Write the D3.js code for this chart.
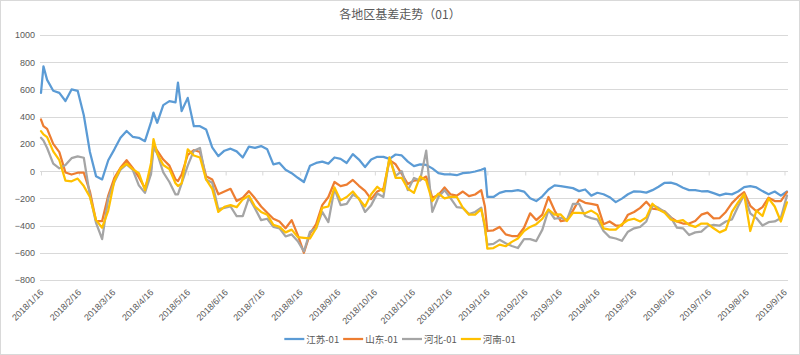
<!DOCTYPE html>
<html><head><meta charset="utf-8">
<script src="https://cdn.jsdelivr.net/npm/d3@7/dist/d3.min.js"></script>
<style>html,body{margin:0;padding:0;background:#fff;}svg{display:block;font-family:"Liberation Sans","Noto Sans CJK SC",sans-serif;}</style>
</head><body>
<svg id="chart" width="800" height="355"></svg>
<script>
const title = "各地区基差走势（01）";
const seriesNames = ["江苏-01", "山东-01", "河北-01", "河南-01"];
const seriesColors = ["#5B9BD5", "#ED7D31", "#A5A5A5", "#FFC000"];
const yTicks = [-800, -600, -400, -200, 0, 200, 400, 600, 800, 1000];
const xTickLabels = ["2018/1/16","2018/2/16","2018/3/16","2018/4/16","2018/5/16","2018/6/16","2018/7/16","2018/8/16","2018/9/16","2018/10/16","2018/11/16","2018/12/16","2019/1/16","2019/2/16","2019/3/16","2019/4/16","2019/5/16","2019/6/16","2019/7/16","2019/8/16","2019/9/16"];

const dates = [
"2018-01-16","2018-01-18","2018-01-21","2018-01-26","2018-01-31","2018-02-05","2018-02-10","2018-02-15","2018-02-20","2018-02-25",
"2018-03-02","2018-03-07","2018-03-12","2018-03-17","2018-03-22","2018-03-27","2018-04-01","2018-04-06","2018-04-11","2018-04-16",
"2018-04-18","2018-04-21","2018-04-26","2018-05-01","2018-05-06","2018-05-08","2018-05-11","2018-05-16","2018-05-21","2018-05-26",
"2018-05-31","2018-06-05","2018-06-10","2018-06-15","2018-06-20","2018-06-25","2018-06-30","2018-07-05","2018-07-10","2018-07-15",
"2018-07-20","2018-07-25","2018-07-30","2018-08-04","2018-08-09","2018-08-14","2018-08-19","2018-08-24","2018-08-29","2018-09-03",
"2018-09-08","2018-09-13","2018-09-18","2018-09-23","2018-09-28","2018-10-03","2018-10-08","2018-10-13","2018-10-18","2018-10-23",
"2018-10-28","2018-11-02","2018-11-07","2018-11-12","2018-11-17","2018-11-22","2018-11-27","2018-12-02","2018-12-07","2018-12-12",
"2018-12-17","2018-12-22","2018-12-27","2019-01-01","2019-01-06","2019-01-11","2019-01-14","2019-01-16","2019-01-21","2019-01-26",
"2019-01-31","2019-02-05","2019-02-10","2019-02-15","2019-02-20","2019-02-25","2019-03-02","2019-03-07","2019-03-12","2019-03-17",
"2019-03-22","2019-03-27","2019-04-01","2019-04-06","2019-04-11","2019-04-16","2019-04-21","2019-04-26","2019-05-01","2019-05-06",
"2019-05-11","2019-05-16","2019-05-21","2019-05-26","2019-05-31","2019-06-05","2019-06-10","2019-06-15","2019-06-20","2019-06-25",
"2019-06-30","2019-07-05","2019-07-10","2019-07-15","2019-07-20","2019-07-25","2019-07-30","2019-08-04","2019-08-09","2019-08-14",
"2019-08-19","2019-08-24","2019-08-29","2019-09-03","2019-09-08","2019-09-13","2019-09-18"];

const jiangsu = [
575, 770, 670, 590, 575, 515, 600, 590, 410, 140,
-37, -61, 80, 160, 245, 295, 252, 245, 220, 360,
430, 355, 485, 514, 505, 650, 441, 538, 330, 330,
306, 175, 110, 150, 165, 145, 100, 180, 171, 184,
160, 49, 60, 10, -15, -49, -80, 40, 60, 70,
55, 100, 90, 60, 125, 85, 30, 85, 105, 105,
90, 122, 115, 70, 37, 49, 45, 20, -15, -24,
-24, -30, -15, -12, -3, 10, 20, -190, -190, -160,
-147, -147, -140, -150, -200, -220, -185, -135, -105, -110,
-118, -125, -147, -135, -180, -159, -170, -192, -228, -202,
-170, -148, -150, -158, -140, -115, -86, -85, -98, -122,
-140, -140, -148, -147, -162, -178, -165, -171, -150, -118,
-110, -120, -147, -170, -150, -180, -150];

const shandong = [
379, 330, 310, 200, 140, -10, -25, -12, -12, -150,
-367, -367, -180, -50, 25, 80, 24, -45, -125, 10,
200, 150, 85, 40, -61, -73, -25, 120, 155, 140,
-37, -61, -170, -150, -130, -220, -195, -147, -200, -260,
-306, -350, -370, -420, -360, -470, -600, -460, -390, -250,
-190, -80, -110, -100, -65, -108, -145, -206, -150, -130,
80, 50, -20, -95, -70, -65, -40, -196, -175, -120,
-171, -180, -150, -184, -172, -140, -260, -440, -435, -410,
-465, -477, -477, -416, -310, -360, -320, -190, -290, -367,
-360, -290, -210, -233, -240, -250, -390, -370, -400, -400,
-320, -300, -270, -225, -275, -282, -296, -340, -370, -385,
-385, -367, -320, -305, -347, -345, -300, -235, -190, -155,
-255, -295, -265, -195, -220, -220, -155];

const hebei = [
245, 225, 170, 55, 20, 45, 95, 108, 98, -180,
-380, -500, -200, -80, 10, 50, 10, -105, -160, -20,
170, 130, -10, -80, -171, -171, -90, 40, 150, 170,
-61, -86, -280, -270, -260, -330, -330, -196, -275, -360,
-350, -410, -420, -480, -465, -515, -590, -445, -420, -300,
-375, -130, -250, -240, -172, -200, -300, -250, -165, -190,
100, -35, 0, -140, -50, -70, 150, -300, -190, -140,
-200, -265, -270, -316, -300, -269, -420, -540, -535, -505,
-530, -550, -565, -500, -500, -514, -430, -285, -350, -343,
-360, -240, -240, -330, -345, -357, -440, -485, -495, -512,
-445, -420, -410, -370, -250, -270, -300, -340, -415, -420,
-470, -450, -445, -405, -395, -400, -370, -355, -260, -175,
-310, -345, -400, -375, -370, -345, -180];

const henan = [
294, 270, 250, 145, 80, -70, -75, -55, -110, -190,
-360, -416, -290, -70, 20, 55, 15, -15, -140, 60,
235, 130, 45, 15, -90, -110, -90, 160, 115, 100,
-61, -130, -300, -262, -250, -265, -208, -180, -260, -300,
-320, -395, -410, -450, -430, -485, -490, -495, -420, -270,
-260, -120, -215, -190, -150, -205, -260, -170, -115, -150,
100, -50, -50, -130, -160, -40, -70, -220, -165, -200,
-190, -190, -269, -320, -320, -280, -400, -570, -565, -540,
-552, -520, -495, -440, -410, -390, -350, -282, -320, -318,
-367, -306, -306, -310, -290, -318, -420, -430, -430, -390,
-360, -350, -370, -340, -240, -282, -306, -355, -370, -360,
-395, -410, -385, -385, -420, -450, -430, -300, -230, -170,
-440, -290, -330, -200, -260, -370, -230];

const seriesValues = [jiangsu, shandong, hebei, henan];

const svg = d3.select("#chart");
const W = 800, H = 355;
const parseISO = d3.utcParse("%Y-%m-%d");
const parseTick = s => { const p = s.split("/").map(Number); return new Date(Date.UTC(p[0], p[1]-1, p[2])); };
const xDates = dates.map(parseISO);
const tickDates = xTickLabels.map(parseTick);

const plotLeft = 41, plotRight = 788;
const x = d3.scaleUtc().domain([tickDates[0], tickDates[tickDates.length-1]]).range([41, 784.5]);
const y = d3.scaleLinear().domain([-800, 1000]).range([280, 35]);

svg.append("rect").attr("x",0.5).attr("y",0.5).attr("width",W-1).attr("height",H-1)
  .attr("fill","#fff").attr("stroke","#d9d9d9");

svg.append("text").attr("x", 400).attr("y", 19).attr("text-anchor","middle")
  .attr("font-size", 12).attr("fill","#595959")
  .attr("font-family","'Noto Sans CJK SC',sans-serif").text(title);

// gridlines
svg.append("g").selectAll("line").data(yTicks).join("line")
  .attr("x1", plotLeft - 1).attr("x2", plotRight)
  .attr("y1", d => Math.round(y(d)) + 0.5).attr("y2", d => Math.round(y(d)) + 0.5)
  .attr("stroke", "#d9d9d9").attr("stroke-width", 1);

// y labels
const yAxis = d3.axisLeft(y).tickValues(yTicks).tickSize(0).tickPadding(0).tickFormat(d3.format("d"));
const gy = svg.append("g").attr("transform", "translate(35,0)").call(yAxis);
gy.select(".domain").remove();
gy.selectAll("text").attr("font-size", 9).attr("fill", "#595959").attr("font-family","'Liberation Sans',sans-serif");

// category axis at zero with tick marks
const y0 = Math.round(y(0)) + 0.5;
const gx = svg.append("g").attr("transform", `translate(0,${y0})`)
  .call(d3.axisBottom(x).tickValues(tickDates).tickSize(4).tickFormat(""));
gx.select(".domain").attr("stroke", "#d9d9d9").attr("d", `M${plotLeft - 1},0H${plotRight}`);
gx.selectAll(".tick line").attr("stroke", "#d9d9d9");

// x labels at low position
svg.append("g").selectAll("text").data(xTickLabels).join("text")
  .attr("transform", (d, i) => `translate(${x(tickDates[i]) + 3},${293}) rotate(-45)`)
  .attr("text-anchor", "end").attr("font-size", 9).attr("fill", "#595959")
  .attr("font-family","'Liberation Sans',sans-serif")
  .text(d => d);

// lines
const line = d3.line().x(d => x(d[0])).y(d => y(d[1]));
seriesValues.forEach((vals, k) => {
  const pts = xDates.map((dt, i) => [dt, vals[i]]).filter(p => p[1] != null);
  svg.append("path").datum(pts).attr("d", line)
    .attr("fill", "none").attr("stroke", seriesColors[k]).attr("stroke-width", 2.25)
    .attr("stroke-linejoin", "round").attr("stroke-linecap", "round");
});

// legend
const lg = svg.append("g");
let cx = 0;
seriesNames.forEach((name, k) => {
  const g = lg.append("g").attr("transform", `translate(${cx},0)`);
  g.append("line").attr("x1", 0).attr("x2", 20).attr("y1", 0).attr("y2", 0)
    .attr("stroke", seriesColors[k]).attr("stroke-width", 2.25);
  const t = g.append("text").attr("x", 22).attr("y", 3.5).attr("font-size", 9.5)
    .attr("fill", "#595959").attr("font-family","'Noto Sans CJK SC',sans-serif").text(name);
  cx += 22 + t.node().getComputedTextLength() + 4;
});
const lw = cx - 4;
lg.attr("transform", `translate(${400 - lw/2},339)`);
</script>
</body></html>
